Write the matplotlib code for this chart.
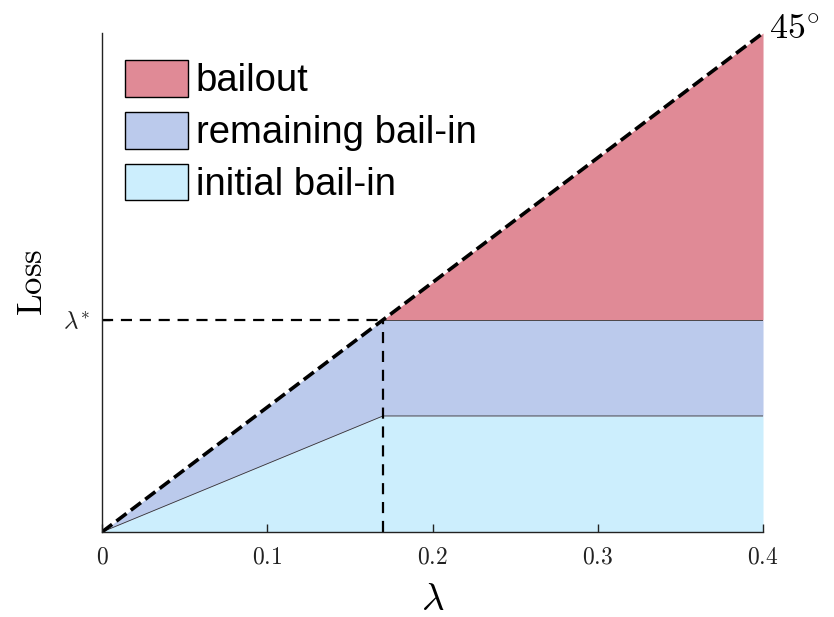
import matplotlib
matplotlib.use("Agg")
import matplotlib.pyplot as plt
from matplotlib.patches import Patch

plt.rcParams["mathtext.fontset"] = "cm"

# loss as a function of lambda (45 degree line), with the threshold lambda*
lam = [0.0, 0.17, 0.4]
lam_star = 0.17
total_loss = [0.0, 0.17, 0.4]
initial_bailin = [0.0, 0.093, 0.093]
bailin_cap = [0.0, 0.17, 0.17]

x_ticks = [0, 0.1, 0.2, 0.3, 0.4]
x_tick_labels = ["$0$", "$0.1$", "$0.2$", "$0.3$", "$0.4$"]

c_bailout = "#E08A96"
c_remaining = "#BBCAEC"
c_initial = "#CCEEFD"

fig = plt.figure(figsize=(8.34, 6.17), dpi=100)
ax = fig.add_axes([0.1223, 0.1378, 0.7926, 0.8087])

ax.fill_between(lam, 0, initial_bailin, color=c_initial, lw=0)
ax.fill_between(lam, initial_bailin, bailin_cap, color=c_remaining, lw=0)
ax.fill_between(lam, bailin_cap, total_loss, color=c_bailout, lw=0)

# thin boundaries between regions
ax.plot(lam, initial_bailin, color="#333333", lw=0.6)
ax.plot(lam[1:], bailin_cap[1:], color="#333333", lw=0.6)

# lambda* guide lines
ax.plot([0, lam_star], [lam_star, lam_star], color="black", lw=1.6, ls=(0, (5, 3.5)))
ax.plot([lam_star, lam_star], [0, lam_star], color="black", lw=1.6, ls=(0, (5, 3.5)))

# 45 degree line
ax.plot(lam, total_loss, color="black", lw=2.6, ls=(0, (3.5, 1.5)))
ax.annotate(r"$45^{\circ}$", xy=(lam[-1], total_loss[-1]), xytext=(4, 3),
            textcoords="offset points", ha="left", va="center", fontsize=26)

ax.set_xlim(0, 0.4)
ax.set_ylim(0, 0.4)
ax.set_xticks(x_ticks)
ax.set_xticklabels(x_tick_labels, fontsize=17)
ax.set_yticks([lam_star])
ax.set_yticklabels([r"$\lambda^{*}$"], fontsize=18)
ax.tick_params(direction="in", length=6, width=1, colors="#222222", pad=9)
ax.tick_params(axis="y", pad=9)

for side in ("top", "right"):
    ax.spines[side].set_visible(False)
for side in ("left", "bottom"):
    ax.spines[side].set_color("#222222")
    ax.spines[side].set_linewidth(1.0)

ax.set_xlabel(r"$\lambda$", fontsize=28, labelpad=8)
ax.set_ylabel(r"$\mathrm{Loss}$", fontsize=25, labelpad=10)

handles = [
    Patch(facecolor=c_bailout, edgecolor="black", lw=1.0, label="bailout"),
    Patch(facecolor=c_remaining, edgecolor="black", lw=1.0, label="remaining bail-in"),
    Patch(facecolor=c_initial, edgecolor="black", lw=1.0, label="initial bail-in"),
]
ax.legend(handles=handles, loc="upper left", bbox_to_anchor=(0.035, 0.946),
          frameon=False, prop={"family": "Liberation Sans", "size": 27.5},
          handlelength=1.65, handleheight=1.1, handletextpad=0.2,
          labelspacing=0.33, borderaxespad=0.0, borderpad=0.0)

fig.savefig("out.png", dpi=100)
